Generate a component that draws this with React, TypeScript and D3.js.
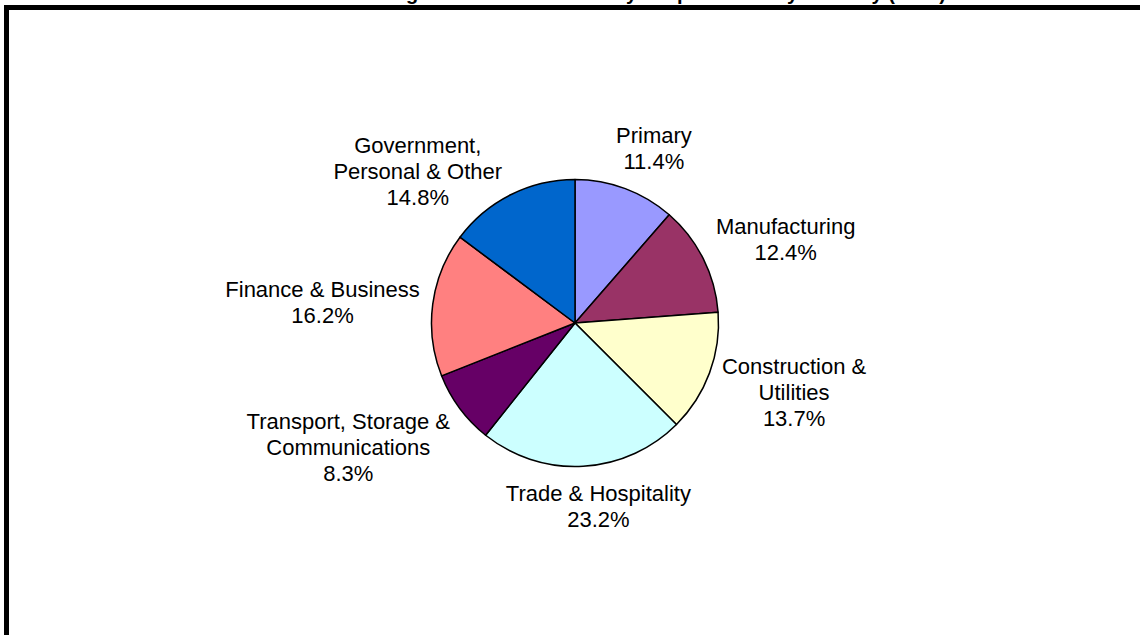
import { useEffect, useRef } from "react";
import * as d3 from "d3";

// industry names, one entry per text line of the label
const industries: string[][] = [
  ["Primary"],
  ["Manufacturing"],
  ["Construction &", "Utilities"],
  ["Trade & Hospitality"],
  ["Transport, Storage &", "Communications"],
  ["Finance & Business"],
  ["Government,", "Personal & Other"],
];
const shares = [11.4, 12.4, 13.7, 23.2, 8.3, 16.2, 14.8];
const colors = ["#9999FF", "#993366", "#FFFFCC", "#CCFFFF", "#660066", "#FF8080", "#0066CC"];
const title = "Gross Regional Product: Industry Output Share by Industry (2006)";

const W = 1140;
const H = 635;

// small hand nudges so labels land where Excel put them
const labelNudge: [number, number][] = [
  [9, 1],
  [4, 0],
  [0, 0],
  [9, -3],
  [-15, 5],
  [4, 4],
  [-47, 27],
];

const App = () => {
  const ref = useRef<SVGSVGElement>(null!);

  useEffect(() => {
    const svg = d3.select(ref.current);
    svg.selectAll("*").remove();

    const font = "'Liberation Sans', Arial, sans-serif";

    svg
      .append("rect")
      .attr("x", 6.5)
      .attr("y", 7.5)
      .attr("width", 1300)
      .attr("height", 800)
      .attr("fill", "#fff")
      .attr("stroke", "#000")
      .attr("stroke-width", 5);

    // title sits mostly above the page, only descenders show
    svg
      .append("text")
      .attr("x", 946)
      .attr("y", 0)
      .attr("text-anchor", "end")
      .attr("font-family", font)
      .attr("font-weight", "bold")
      .attr("font-size", 20)
      .text(title);

    const cx = 575;
    const cy = 323;
    const radius = 143.5;

    const data = shares.map((v, i) => ({ value: v, lines: industries[i], color: colors[i] }));

    const pie = d3
      .pie<(typeof data)[number]>()
      .value((d) => d.value)
      .sort(null);

    const arc = d3
      .arc<d3.PieArcDatum<(typeof data)[number]>>()
      .innerRadius(0)
      .outerRadius(radius);

    const g = svg.append("g").attr("transform", `translate(${cx},${cy})`);
    const arcs = pie(data);

    g.selectAll("path")
      .data(arcs)
      .enter()
      .append("path")
      .attr("d", arc)
      .attr("fill", (d) => d.data.color)
      .attr("stroke", "#000")
      .attr("stroke-width", 1.5)
      .attr("stroke-linejoin", "round");

    const labelR = radius + 18;

    arcs.forEach((d, i) => {
      const text = g
        .append("text")
        .attr("text-anchor", "middle")
        .attr("font-family", font)
        .attr("font-size", 22)
        .attr("fill", "#000");
      const lines = [...d.data.lines, `${d.data.value.toFixed(1)}%`];
      lines.forEach((l, j) => {
        text
          .append("tspan")
          .attr("x", 0)
          .attr("dy", j === 0 ? 0 : 26)
          .text(l);
      });
      const box = (text.node() as SVGTextElement).getBBox();
      const mid = (d.startAngle + d.endAngle) / 2;
      const ax = Math.sin(mid) * labelR;
      const ay = -Math.cos(mid) * labelR;
      const px = ax + (Math.sin(mid) * box.width) / 2 + labelNudge[i][0];
      const py = ay - (Math.cos(mid) * box.height) / 2 + labelNudge[i][1];
      const bx = box.x + box.width / 2;
      const by = box.y + box.height / 2;
      text.attr("transform", `translate(${px - bx},${py - by})`);
    });
  }, []);

  return (
    <div style={{ position: "fixed", left: 0, top: 0, width: W, height: H, overflow: "hidden", background: "#fff" }}>
      <svg ref={ref} width={W} height={H} style={{ display: "block" }} />
    </div>
  );
};

export default App;
